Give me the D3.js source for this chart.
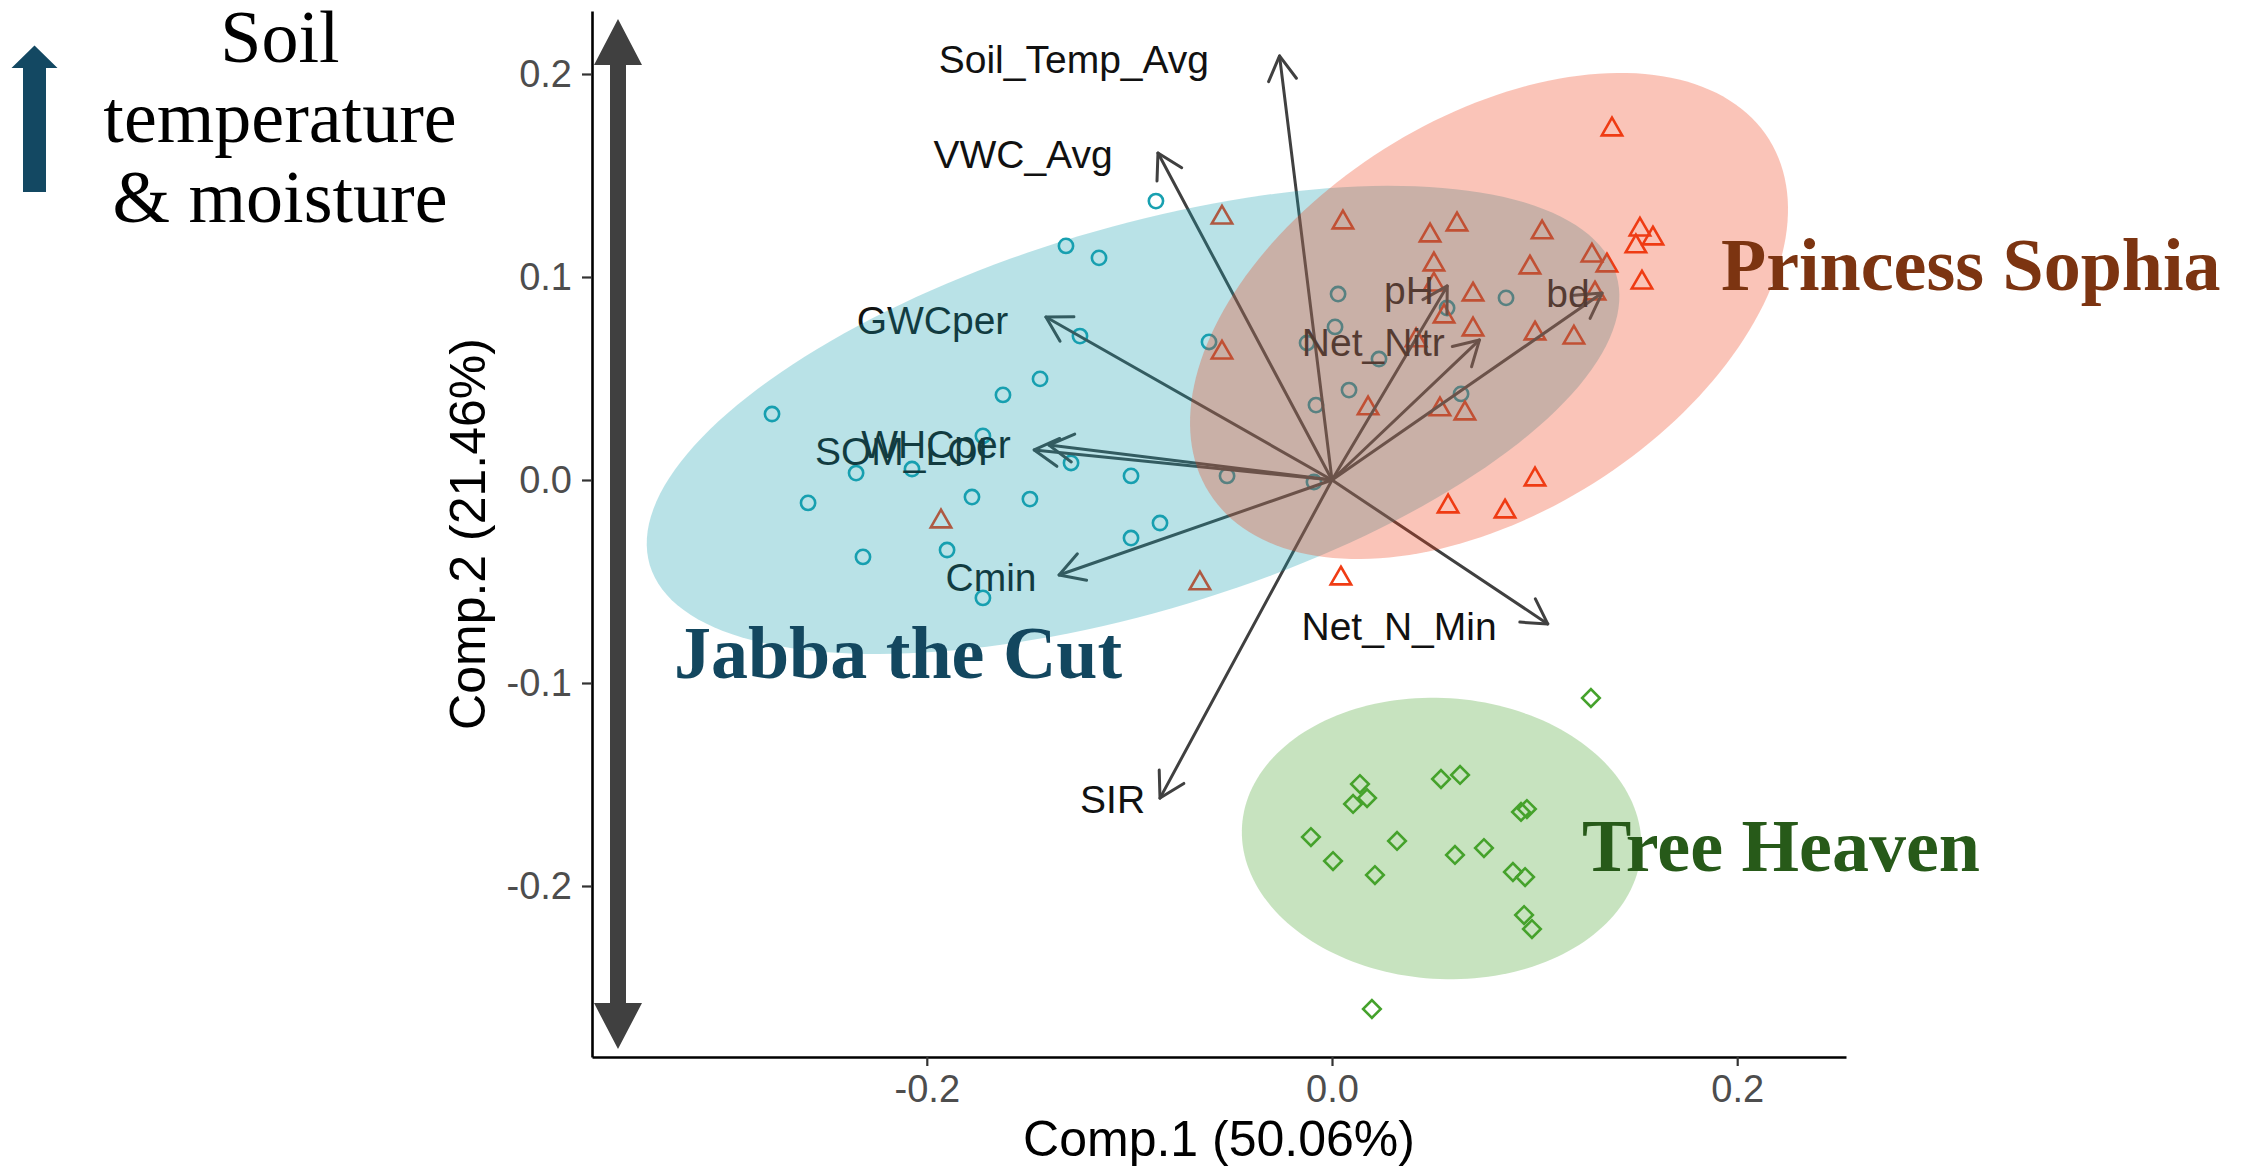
<!DOCTYPE html>
<html>
<head>
<meta charset="utf-8">
<script src="https://cdn.jsdelivr.net/npm/d3@7"></script>
<style>
  body { margin: 0; background: #fff; }
  svg { display: block; }
</style>
</head>
<body>
<div id="chart"></div>
<script>
// axis limits and ticks
const xLimits = [-0.36525, 0.2537];
const yLimits = [-0.28424, 0.23103];
const xTicks = [-0.2, 0.0, 0.2];
const yTicks = [-0.2, -0.1, 0.0, 0.1, 0.2];
const xTitle = "Comp.1 (50.06%)";
const yTitle = "Comp.2 (21.46%)";

// site scores
const jabbaX = [-0.0869,-0.1313,-0.1150,-0.1244,-0.0607,0.0030,0.0015,-0.0123,0.0232,0.0084,-0.0079,0.0859,0.0568,0.0637,-0.1441,-0.1624,-0.2764,-0.1723,-0.2349,-0.2073,-0.1288,-0.0992,-0.0518,-0.0089,-0.2586,-0.1777,-0.1491,-0.0849,-0.0992,-0.2315,-0.1900,-0.1723];
const jabbaY = [0.1374,0.1153,0.1094,0.0709,0.0680,0.0916,0.0754,0.0675,0.0596,0.0443,0.0369,0.0897,0.0847,0.0424,0.0498,0.0419,0.0325,0.0217,0.0034,0.0054,0.0084,0.0020,0.0020,-0.0010,-0.0113,-0.0084,-0.0094,-0.0212,-0.0286,-0.0379,-0.0345,-0.0581];

const princessX = [0.1382,-0.0543,0.0054,0.0484,0.0617,0.1037,0.1520,0.1584,0.1500,0.1283,0.1357,0.1530,0.0503,0.0977,0.0696,0.0503,0.0553,0.1298,0.0696,0.1002,0.1194,0.0415,-0.0543,0.0178,0.0533,0.0656,0.1002,0.0573,0.0854,-0.1930,0.0044,-0.0652];
const princessY = [0.1734,0.1300,0.1276,0.1212,0.1266,0.1227,0.1241,0.1197,0.1158,0.1113,0.1064,0.0980,0.1069,0.1054,0.0921,0.0970,0.0813,0.0926,0.0749,0.0729,0.0709,0.0695,0.0635,0.0360,0.0355,0.0335,0.0010,-0.0123,-0.0148,-0.0197,-0.0478,-0.0502];

const treeX = [0.1278,0.0138,0.0173,0.0104,0.0538,0.0632,0.0933,0.0962,-0.0104,0.0321,0.0005,0.0607,0.0750,0.0212,0.0893,0.0953,0.0948,0.0987,0.0197];
const treeY = [-0.1074,-0.1498,-0.1567,-0.1596,-0.1473,-0.1453,-0.1635,-0.1621,-0.1759,-0.1778,-0.1877,-0.1847,-0.1813,-0.1946,-0.1931,-0.1956,-0.2143,-0.2212,-0.2606];

// variable loadings (arrow tips) and where their names sit
const varNames = ["Soil_Temp_Avg","VWC_Avg","GWCper","WHCper","SOM_LOI","Cmin","SIR","Net_N_Min","pH","Net_Nitr","bd"];
const loadX = [-0.0259,-0.0859,-0.1412,-0.1397,-0.1470,-0.1347,-0.0849,0.1065,0.0569,0.0728,0.1333];
const loadY = [0.2089,0.1611,0.0803,0.0172,0.0148,-0.0468,-0.1567,-0.0709,0.0956,0.0690,0.0921];
const labelX = [-0.1274,-0.1525,-0.1972,-0.1955,-0.2124,-0.1683,-0.1083,0.0331,0.0380,0.0204,0.1165];
const labelY = [0.2076,0.1606,0.0788,0.0177,0.0143,-0.0476,-0.1569,-0.0719,0.0936,0.0681,0.0919];

// groups: ellipse centre, semi axes, rotation (deg), name placement
const groupNames = ["Jabba the Cut", "Princess Sophia", "Tree Heaven"];
const ellCx = [-0.0982, 0.0775, 0.0541];
const ellCy = [0.0296, 0.0808, -0.1766];
const ellA = [0.249, 0.1633, 0.0987];
const ellB = [0.0944, 0.0972, 0.0692];
const ellAngle = [16.7, 32.2, -3.6];
const groupLabelX = [-0.3248, 0.1920, 0.1234];
const groupLabelY = [-0.0975, 0.0936, -0.1926];

const groupColors = ["#18a0b0", "#f03c14", "#45a22c"];
const groupTextColors = ["#13475f", "#7c3411", "#275a19"];

const annotLines = ["Soil", "temperature", "& moisture"];


function draw_biplot(wrapper)
{
  var width = 2241, height = 1167;
  var margin = {top: 11, right: 395, bottom: 110, left: 592};
  const sans = "'Liberation Sans', Arial, sans-serif";
  const serif = "'Liberation Serif', 'Times New Roman', serif";

  let svg = d3.select(wrapper).append("svg")
    .attr("width", width).attr("height", height);

  const xScale = d3.scaleLinear()
    .domain(xLimits)
    .range([margin.left, width - margin.right]);
  const yScale = d3.scaleLinear()
    .domain(yLimits)
    .range([height - margin.bottom, margin.top]);

  const groups = [
    {x: jabbaX, y: jabbaY, shape: "circle"},
    {x: princessX, y: princessY, shape: "triangle"},
    {x: treeX, y: treeY, shape: "diamond"}
  ];

  // points
  groups.forEach((g, gi) => {
    const pts = g.x.map((v, i) => ({x: v, y: g.y[i]}));
    let sel = svg.append("g").selectAll("path").data(pts).enter().append("path")
      .attr("fill", "none")
      .attr("stroke", groupColors[gi])
      .attr("stroke-width", 2.6);
    if (g.shape == "circle")
      sel.attr("d", d3.symbol(d3.symbolCircle, 160))
        .attr("transform", d => `translate(${xScale(d.x)},${yScale(d.y)})`);
    else if (g.shape == "triangle")
      sel.attr("d", d3.symbol(d3.symbolTriangle, 180))
        .attr("transform", d => `translate(${xScale(d.x)},${yScale(d.y) + 1.5})`);
    else
      sel.attr("d", d3.symbol(d3.symbolSquare, 155))
        .attr("transform", d => `translate(${xScale(d.x)},${yScale(d.y)}) rotate(45)`);
  });

  // loading arrows
  const x0 = xScale(0), y0 = yScale(0);
  const headLen = 28, headAng = Math.PI / 6;
  const arrows = svg.append("g")
    .attr("stroke", "#404040")
    .attr("stroke-width", 3)
    .attr("fill", "none")
    .attr("stroke-linecap", "round");
  varNames.forEach((n, i) => {
    const tx = xScale(loadX[i]), ty = yScale(loadY[i]);
    const ang = Math.atan2(ty - y0, tx - x0);
    arrows.append("line")
      .attr("x1", x0).attr("y1", y0).attr("x2", tx).attr("y2", ty);
    const ax = tx - headLen * Math.cos(ang - headAng), ay = ty - headLen * Math.sin(ang - headAng);
    const bx = tx - headLen * Math.cos(ang + headAng), by = ty - headLen * Math.sin(ang + headAng);
    arrows.append("path")
      .attr("stroke-linejoin", "round")
      .attr("d", `M${ax},${ay}L${tx},${ty}L${bx},${by}`);
  });

  svg.append("g")
    .attr("font-family", sans)
    .attr("font-size", 39)
    .attr("fill", "#111")
    .selectAll("text")
    .data(varNames)
    .join("text")
      .attr("text-anchor", "middle")
      .attr("x", (d, i) => xScale(labelX[i]))
      .attr("y", (d, i) => yScale(labelY[i]))
      .attr("dy", "0.36em")
      .text(d => d);

  // confidence ellipses, drawn over everything like the original
  const angles = d3.range(0, 361, 2).map(d => d * Math.PI / 180);
  groupNames.forEach((n, gi) => {
    const phi = ellAngle[gi] * Math.PI / 180;
    const line = d3.line()
      .x(t => xScale(ellCx[gi] + ellA[gi] * Math.cos(t) * Math.cos(phi) - ellB[gi] * Math.sin(t) * Math.sin(phi)))
      .y(t => yScale(ellCy[gi] + ellA[gi] * Math.cos(t) * Math.sin(phi) + ellB[gi] * Math.sin(t) * Math.cos(phi)))
      .curve(d3.curveLinearClosed);
    svg.append("path")
      .attr("d", line(angles))
      .attr("fill", groupColors[gi])
      .attr("fill-opacity", 0.3);
  });

  // axes
  const xAxis = d3.axisBottom(xScale)
    .tickValues(xTicks)
    .tickFormat(d => d.toFixed(1))
    .tickSize(9).tickSizeOuter(0).tickPadding(9);
  const gx = svg.append("g")
    .attr("transform", `translate(0,${height - margin.bottom})`)
    .call(xAxis);
  const yAxis = d3.axisLeft(yScale)
    .tickValues(yTicks)
    .tickFormat(d => d.toFixed(1))
    .tickSize(10).tickSizeOuter(0).tickPadding(10);
  const gy = svg.append("g")
    .attr("transform", `translate(${margin.left},0)`)
    .call(yAxis);
  [gx, gy].forEach(g => {
    g.select(".domain").attr("stroke", "#000").attr("stroke-width", 2.6);
    g.selectAll(".tick line").attr("stroke", "#333").attr("stroke-width", 2.2);
    g.selectAll(".tick text")
      .attr("fill", "#4d4d4d")
      .style("font-family", sans)
      .style("font-size", "38px");
  });

  svg.append("text")
    .attr("x", (margin.left + width - margin.right) / 2)
    .attr("y", 1156)
    .attr("text-anchor", "middle")
    .attr("font-family", sans)
    .attr("font-size", 50)
    .attr("fill", "#000")
    .text(xTitle);
  svg.append("text")
    .attr("transform", `translate(485,${(margin.top + height - margin.bottom) / 2}) rotate(-90)`)
    .attr("text-anchor", "middle")
    .attr("font-family", sans)
    .attr("font-size", 50)
    .attr("fill", "#000")
    .text(yTitle);

  // big grey double arrow along the y axis
  const ax = margin.left + 26, top = margin.top + 8, bot = height - margin.bottom - 8;
  const sw = 8, hw = 24, hl = 46;
  svg.append("path")
    .attr("fill", "#404040")
    .attr("d", `M${ax},${top}L${ax + hw},${top + hl}L${ax + sw},${top + hl}L${ax + sw},${bot - hl}L${ax + hw},${bot - hl}`
      + `L${ax},${bot}L${ax - hw},${bot - hl}L${ax - sw},${bot - hl}L${ax - sw},${top + hl}L${ax - hw},${top + hl}Z`);

  // group names
  svg.append("g")
    .attr("font-family", serif)
    .attr("font-weight", "bold")
    .attr("font-size", 74)
    .selectAll("text")
    .data(groupNames)
    .join("text")
      .attr("x", (d, i) => xScale(groupLabelX[i]))
      .attr("y", (d, i) => yScale(groupLabelY[i]))
      .attr("fill", (d, i) => groupTextColors[i])
      .text(d => d);

  // top-left note with its arrow
  svg.append("path")
    .attr("fill", "#134862")
    .attr("d", "M23,192L23,68L11.5,68L34.5,45.5L57.5,68L46,68L46,192Z");
  svg.append("g")
    .attr("font-family", serif)
    .attr("font-size", 74)
    .attr("fill", "#000")
    .selectAll("text")
    .data(annotLines)
    .join("text")
      .attr("x", 280)
      .attr("y", (d, i) => 62 + i * 80)
      .attr("text-anchor", "middle")
      .text(d => d);
}

draw_biplot("#chart");
</script>
</body>
</html>
